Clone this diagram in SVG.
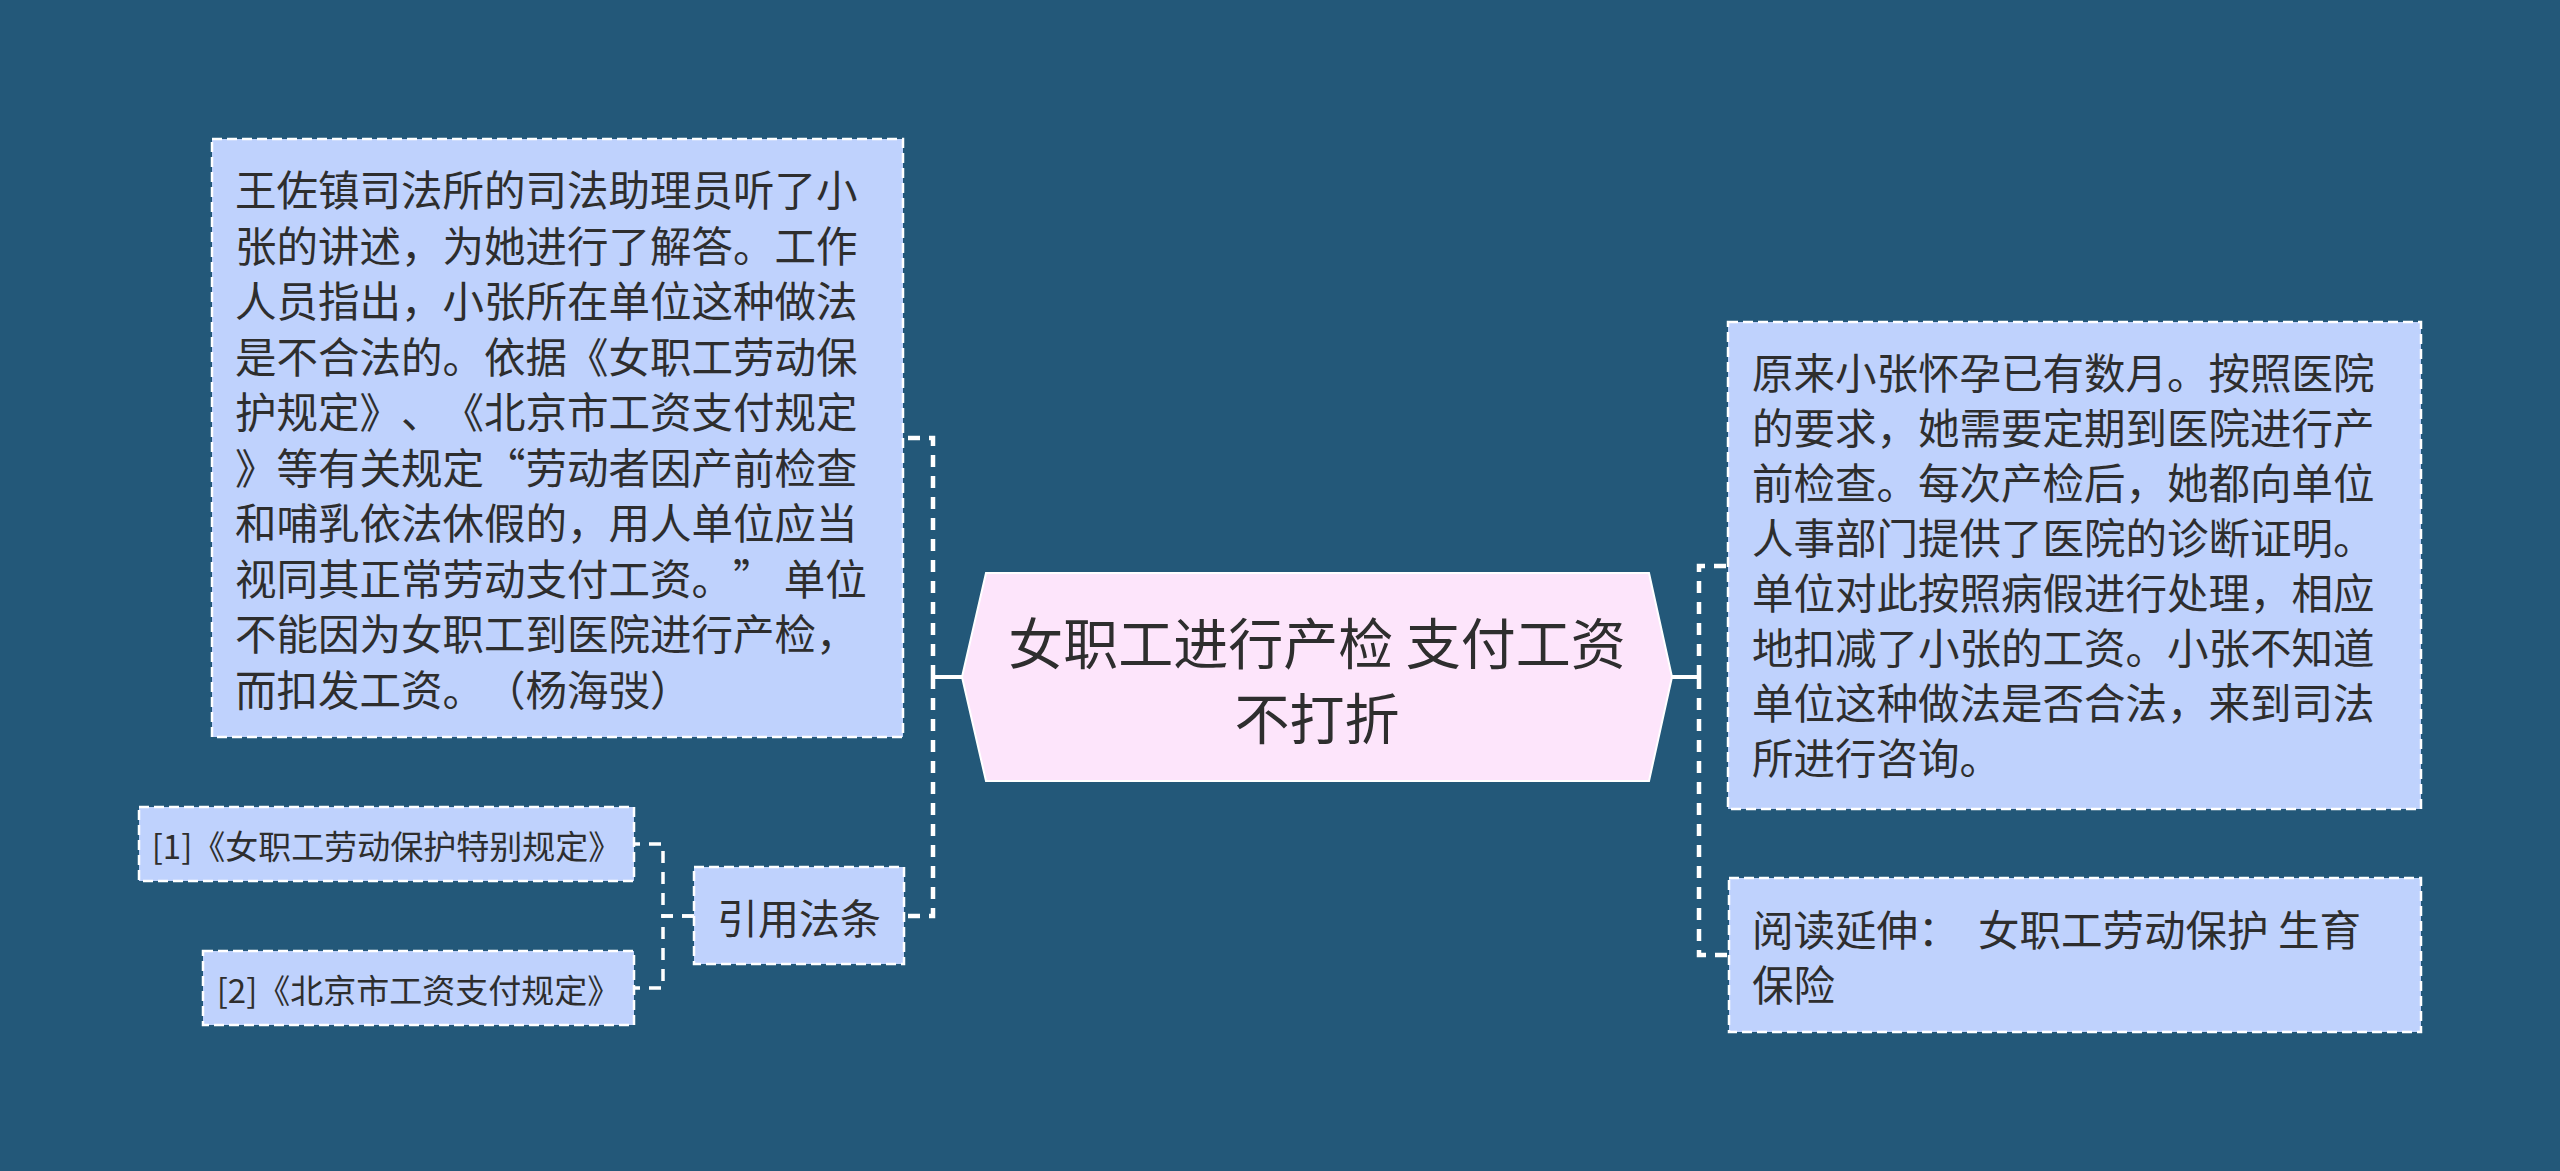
<svg xmlns="http://www.w3.org/2000/svg" width="2560" height="1171" viewBox="0 0 2560 1171">
<defs>
<style>
.bg{fill:#235879}
.box{fill:#bfd2fd;stroke:#ffffff;stroke-width:2.5;stroke-dasharray:10 5}
.hex{fill:#fde5fb;stroke:#ffffff;stroke-width:2}
.t{font-family:"Noto Sans CJK SC","Noto Sans",sans-serif;fill:#2e2e2e;dominant-baseline:central;white-space:pre;text-spacing-trim:space-all}
.conn{fill:none;stroke:#ffffff;stroke-width:4.5;stroke-dasharray:12 9}
.conn2{fill:none;stroke:#ffffff;stroke-width:3.5;stroke-dasharray:12 9}
.solid{fill:none;stroke:#ffffff;stroke-width:4}
</style>
</defs>
<rect class="bg" x="0" y="0" width="2560" height="1171"/>
<g id="connectors">
<line class="solid" x1="933" y1="677" x2="962" y2="677"/>
<path class="conn" d="M933,677 V438 H903"/>
<path class="conn" d="M933,677 V916 H904"/>
<line class="solid" x1="1672" y1="677" x2="1699" y2="677"/>
<path class="conn" d="M1699,677 V566 H1728"/>
<path class="conn" d="M1699,677 V955 H1729"/>
<path class="conn2" d="M694,916 H663 V844 H634"/>
<path class="conn2" d="M694,916 H663 V988 H634"/>
</g>
<g id="center">
<polygon class="hex" points="962,677 986,573 1649,573 1672,677 1649,781 986,781"/>
<text class="t" font-size="55" text-anchor="middle"><tspan x="1317" y="640">女职工进行产检 支付工资</tspan><tspan x="1317" y="715">不打折</tspan></text>
</g>
<g id="node-left">
<rect class="box" x="212" y="139" width="691" height="598"/>
<text class="t" font-size="41.5" x="235">
<tspan x="235" y="188">王佐镇司法所的司法助理员听了小</tspan>
<tspan x="235" y="243.5">张的讲述，为她进行了解答。工作</tspan>
<tspan x="235" y="299">人员指出，小张所在单位这种做法</tspan>
<tspan x="235" y="354.5">是不合法的。依据《女职工劳动保</tspan>
<tspan x="235" y="410">护规定》、《北京市工资支付规定</tspan>
<tspan x="235" y="465.5">》等有关规定“劳动者因产前检查</tspan>
<tspan x="235" y="521">和哺乳依法休假的，用人单位应当</tspan>
<tspan x="235" y="576.5">视同其正常劳动支付工资。” 单位</tspan>
<tspan x="235" y="632">不能因为女职工到医院进行产检，</tspan>
<tspan x="235" y="687.5">而扣发工资。（杨海弢）</tspan>
</text>
</g>
<g id="node-cite">
<rect class="box" x="694" y="867" width="210" height="97"/>
<text class="t" font-size="41" x="799" y="916" text-anchor="middle">引用法条</text>
</g>
<g id="node-cite1">
<rect class="box" x="139" y="807" width="495" height="74"/>
<text class="t" font-size="33" x="386.5" y="845" text-anchor="middle">[1]《女职工劳动保护特别规定》</text>
</g>
<g id="node-cite2">
<rect class="box" x="203" y="951" width="431" height="74"/>
<text class="t" font-size="33" x="418.5" y="989" text-anchor="middle">[2]《北京市工资支付规定》</text>
</g>
<g id="node-right">
<rect class="box" x="1728" y="322" width="693" height="487"/>
<text class="t" font-size="41.5">
<tspan x="1752" y="371">原来小张怀孕已有数月。按照医院</tspan>
<tspan x="1752" y="426">的要求，她需要定期到医院进行产</tspan>
<tspan x="1752" y="481">前检查。每次产检后，她都向单位</tspan>
<tspan x="1752" y="536">人事部门提供了医院的诊断证明。</tspan>
<tspan x="1752" y="591">单位对此按照病假进行处理，相应</tspan>
<tspan x="1752" y="646">地扣减了小张的工资。小张不知道</tspan>
<tspan x="1752" y="701">单位这种做法是否合法，来到司法</tspan>
<tspan x="1752" y="756">所进行咨询。</tspan>
</text>
</g>
<g id="node-reading">
<rect class="box" x="1729" y="878" width="692" height="154"/>
<text class="t" font-size="41.5"><tspan x="1752" y="928">阅读延伸：  女职工劳动保护 生育</tspan><tspan x="1752" y="983">保险</tspan></text>
</g>
</svg>
